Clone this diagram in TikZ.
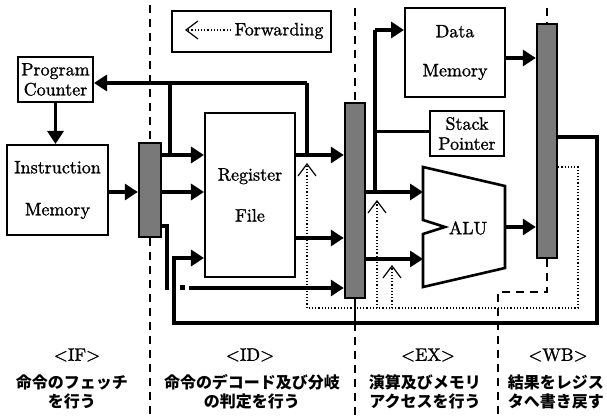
\documentclass[tikz,border=0pt]{standalone}
\usepackage{fontspec}
\setmainfont{lmroman10-regular.otf}[FakeBold=1.2]
\newfontfamily\jpfont{Noto Sans CJK JP}
\usetikzlibrary{arrows.meta}

\begin{document}
\begin{tikzpicture}[x=0.5pt,y=-0.5pt,
  box/.style={draw, line width=1pt, fill=white, inner sep=0pt, align=center,
    font=\fontsize{9}{10}\selectfont},
  preg/.style={draw, line width=1.2pt, fill=gray!60!black!75, inner sep=0pt},
  bus/.style={line width=2pt},
  busarrow/.style={line width=2pt, -{Triangle[length=6.5pt,width=8pt]}},
  wire/.style={line width=1.2pt},
  fwd/.style={line width=0.6pt, densely dotted,
    -{Straight Barb[length=6pt,width=9pt,line width=0.6pt]}},
  stage/.style={line width=1pt, dash pattern=on 4pt off 3pt},
  stagename/.style={font=\fontsize{9}{10}\selectfont},
  jp/.style={font=\jpfont\bfseries\fontsize{8}{9.5}\selectfont, align=center},
]
\useasboundingbox (0,0) rectangle (607,416);

% ---------- signal levels ----------
\coordinate (yPC)  at (0,83);
\coordinate (yA)   at (0,155);
\coordinate (yB)   at (0,192);
\coordinate (yImm) at (0,226);
\coordinate (yC)   at (0,238);
\coordinate (yD)   at (0,258);
\coordinate (yE)   at (0,288);
\coordinate (yBot) at (0,323);
\coordinate (yDM)  at (0,30);
\coordinate (yDMo) at (0,58);
\coordinate (ySP)  at (0,132);
\coordinate (yWB)  at (0,137);
\coordinate (yWBf) at (0,167);

% ---------- legend ----------
\node[box, minimum width=79.5pt, minimum height=20.5pt] (legend) at (251.5,31.5) {};
\node[stagename] (fwdtxt) at (279,31) {Forwarding};
\coordinate (fwdA) at (231,30);
\coordinate (fwdB) at (185,30);
\draw[fwd, line width=0.9pt] (fwdA) -- (fwdB);

% ---------- blocks ----------
\node[box, minimum width=37.5pt, minimum height=22.5pt] (pc) at (55.5,79.5) {Program\\Counter};
\node[box, minimum width=50.5pt, minimum height=45pt] (im) at (57.5,190) {Instruction\\[11pt]Memory};
\node[box, minimum width=45pt, minimum height=82pt] (rf) at (250,195) {Register\\[10.5pt]File};
\node[box, minimum width=50pt, minimum height=44.5pt] (dm) at (455,52.5) {Data\\[9.5pt]Memory};
\node[box, minimum width=37pt, minimum height=22.5pt] (sp) at (467,133.5) {Stack\\Pointer};

% ALU outline with its notch
\draw[line width=1.3pt, fill=white] (423,167) -- (505,186) -- (505,268) -- (423,287)
  -- (423,234) -- (445,227) -- (423,220) -- cycle;
\node[stagename] (alu) at (468,228) {ALU};
\coordinate (aluin1) at (423,192);
\coordinate (aluin2) at (423,259);
\coordinate (aluout) at (505,227);

% ---------- pipeline registers ----------
\node[preg, minimum width=11pt, minimum height=47pt] (ifid) at (150,190) {};
\node[preg, minimum width=10pt, minimum height=97.5pt] (idex) at (355,200.5) {};
\node[preg, minimum width=10pt, minimum height=117pt] (exwb) at (547,141) {};

% ---------- stage boundaries ----------
\coordinate (b1t) at (150,5);   \coordinate (b1b) at (150,416);
\coordinate (b2t) at (355,8);   \coordinate (b2m) at (355,323); \coordinate (b2b) at (355,416);
\coordinate (b3t) at (547,8);   \coordinate (b3m) at (547,292);
\coordinate (b3k) at (498,292); \coordinate (b3b) at (498,416);
\draw[stage] (b1t) -- (ifid.north);
\draw[stage] (ifid.south) -- (b1b);
\draw[stage] (b2t) -- (idex.north);
\draw[stage] (b2m) -- (b2b);
\draw[stage] (b3t) -- (exwb.north);
\draw[stage] (exwb.south) -- (b3m) -- (b3k) -- (b3b);

% ---------- IF stage ----------
\draw[busarrow] (pc.south) -- (pc.south |- im.north);
\draw[busarrow] (im.east |- yB) -- (ifid.west |- yB);

% ---------- ID stage ----------
\coordinate (br1) at (170,155);  \coordinate (br1t) at (170,83);
\coordinate (br2) at (307,155);  \coordinate (br2t) at (307,83);
\draw[busarrow] (ifid.east |- yA) -- (rf.west |- yA);
\draw[busarrow] (ifid.east |- yB) -- (rf.west |- yB);
\draw[bus] (br1) -- (br1t);
\draw[bus] (br2) -- (br2t);
\draw[busarrow] (br2t) -- (pc.east |- yPC);
\draw[busarrow] (rf.east |- yA) -- (idex.west |- yA);
\draw[busarrow] (rf.east |- yC) -- (idex.west |- yC);

% immediate field
\coordinate (imk) at (167,226); \coordinate (ime) at (167,290);
\draw[bus] (ifid.east |- yImm) -- (imk) -- (ime);
\coordinate (imdot) at (182,288); \coordinate (ims) at (189,288);
\fill (imdot) ++(-2.5,-2.5) rectangle ++(5,5);
\draw[busarrow] (ims) -- (idex.west |- yE);

% ---------- EX stage ----------
\coordinate (exv) at (375,192); \coordinate (exvt) at (375,30); \coordinate (exsp) at (375,132);
\draw[busarrow] (idex.east |- yB) -- (aluin1);
\draw[busarrow] (idex.east |- aluin2) -- (aluin2);
\draw[bus] (exv) -- (exvt);
\draw[busarrow] (exvt) -- (dm.west |- yDM);
\draw[wire, line width=1.5pt] (exsp) -- (sp.west |- ySP);
\draw[busarrow] (dm.east |- yDMo) -- (exwb.west |- yDMo);
\draw[busarrow] (aluout) -- (exwb.west |- aluout);

% ---------- write back loop ----------
\coordinate (wb1) at (597,137); \coordinate (wb2) at (597,323);
\coordinate (wb3) at (174,323); \coordinate (wb4) at (174,258);
\draw[busarrow] (exwb.east |- yWB) -- (wb1) -- (wb2) -- (wb3) -- (wb4) -- (rf.west |- yD);
\draw[wire] (idex.south) -- (idex.south |- yBot);

% ---------- forwarding paths ----------
\coordinate (f1) at (578,167); \coordinate (f2) at (578,308);
\coordinate (f3) at (307,308); \coordinate (f3t) at (307,163);
\coordinate (f4) at (377,308); \coordinate (f4t) at (377,200);
\coordinate (f5) at (392,308); \coordinate (f5t) at (392,265);
\draw[fwd] (exwb.east |- yWBf) -- (f1) -- (f2) -- (f3) -- (f3t);
\draw[fwd] (f4) -- (f4t);
\draw[fwd] (f5) -- (f5t);

% ---------- stage captions ----------
\node[stagename] (nIF) at (77,355)  {<IF>};
\node[stagename] (nID) at (250,355) {<ID>};
\node[stagename] (nEX) at (428,355) {<EX>};
\node[stagename] (nWB) at (558,355) {<WB>};
\node[jp] (dIF) at (72,392)  {命令のフェッチ\\を行う};
\node[jp] (dID) at (252,392) {命令のデコード及び分岐\\の判定を行う};
\node[jp] (dEX) at (425,392) {演算及びメモリ\\アクセスを行う};
\node[jp] (dWB) at (556,392) {結果をレジス\\タへ書き戻す};
\end{tikzpicture}
\end{document}
